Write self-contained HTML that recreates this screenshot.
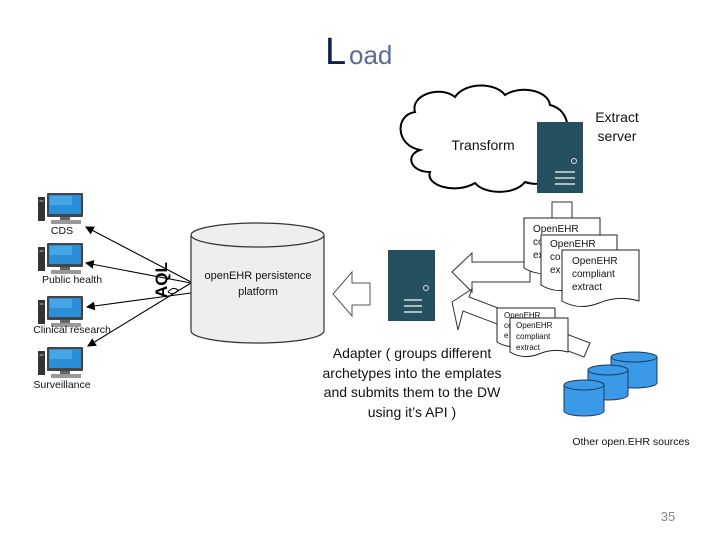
<!DOCTYPE html>
<html><head><meta charset="utf-8"><style>
html,body{margin:0;padding:0;background:#fff}
svg{display:block}
text{font-family:"Liberation Sans",sans-serif}
</style></head><body>
<svg width="720" height="540" viewBox="0 0 720 540" xmlns="http://www.w3.org/2000/svg">
<defs>
<marker id="ah" markerWidth="8" markerHeight="8" refX="7" refY="4" orient="auto"><path d="M0,0 L8,4 L0,8 z" fill="#000"/></marker>
<g id="pc">
  <rect x="0" y="4" width="7" height="24" fill="#333"/>
  <rect x="1.5" y="7" width="4" height="2" fill="#777"/>
  <rect x="9" y="0" width="36" height="24" rx="1" fill="#444"/>
  <rect x="11" y="2" width="32" height="19" fill="#2a8fd8"/>
  <rect x="12" y="3" width="22" height="9" fill="#5ab6ee" opacity="0.6"/>
  <rect x="22" y="24" width="10" height="3" fill="#666"/>
  <rect x="13" y="27" width="30" height="4" fill="#999"/>
</g>
</defs>
<text x="325" y="64" font-size="38" fill="#10204f" font-family="Liberation Serif,serif">L</text>
<text x="349" y="64" font-size="26" fill="#5a6a9a">oad</text>

<!-- computers -->
<use href="#pc" x="38" y="193"/>
<use href="#pc" x="38" y="243"/>
<use href="#pc" x="38" y="296"/>
<use href="#pc" x="38" y="347"/>
<g font-size="10.5" fill="#111" text-anchor="middle">
<text x="62" y="234">CDS</text>
<text x="72" y="283">Public health</text>
<text x="72" y="333">Clinical research</text>
<text x="62" y="388">Surveillance</text>
</g>
<g stroke="#000" stroke-width="1.1" fill="none" marker-end="url(#ah)">
<line x1="191" y1="282" x2="86" y2="227"/>
<line x1="191" y1="283" x2="86" y2="263"/>
<line x1="191" y1="293" x2="87" y2="307"/>
<line x1="191" y1="283" x2="88" y2="346"/>
</g>
<path d="M168,292 q5,-6 10,-2 q-4,6 -10,2" fill="none" stroke="#000" stroke-width="1"/>
<text transform="translate(167,298) rotate(-90)" font-size="17" font-weight="bold" fill="#000">AQL</text>

<!-- cylinder -->
<path d="M191,235 L191,331 A66.5,12 0 0 0 324,331 L324,235" fill="#eee" stroke="#333" stroke-width="1.2"/>
<ellipse cx="257.5" cy="235" rx="66.5" ry="12" fill="#eee" stroke="#333" stroke-width="1.2"/>
<text x="258" y="279" font-size="11" text-anchor="middle" fill="#111">openEHR persistence</text>
<text x="258" y="295" font-size="11" text-anchor="middle" fill="#111">platform</text>

<!-- block arrow left -->
<polygon points="333,294 352,272 352,283 370,283 370,305 352,305 352,316" fill="#fff" stroke="#555" stroke-width="1"/>

<!-- adapter server -->
<rect x="388" y="250" width="47" height="71" fill="#25505f"/>
<circle cx="426" cy="288" r="2.5" fill="none" stroke="#ddd" stroke-width="1"/>
<g stroke="#ddd" stroke-width="1.5"><line x1="404" y1="300" x2="422" y2="300"/><line x1="404" y1="306" x2="422" y2="306"/><line x1="404" y1="312" x2="422" y2="312"/></g>
<g font-size="14" text-anchor="middle" fill="#111">
<text x="412" y="358">Adapter ( groups different</text>
<text x="412" y="378">archetypes into the emplates</text>
<text x="412" y="397">and submits them to the DW</text>
<text x="412" y="417">using it’s API )</text>
</g>

<!-- cloud -->
<path d="M420,150 C395,145 395,115 415,112 C410,95 440,85 455,97 C465,82 495,82 505,95 C520,85 548,90 550,105 C572,110 572,140 558,150 C570,170 548,190 525,182 C515,195 485,195 475,183 C455,195 425,185 430,172 C410,172 405,155 420,150 Z" fill="#fff" stroke="#000" stroke-width="2"/>
<text x="483" y="150" font-size="14" text-anchor="middle" fill="#111">Transform</text>
<!-- extract server -->
<rect x="537" y="122" width="46" height="71" fill="#25505f"/>
<circle cx="574" cy="161" r="2.5" fill="none" stroke="#ddd" stroke-width="1"/>
<g stroke="#ddd" stroke-width="1.5"><line x1="555" y1="172" x2="575" y2="172"/><line x1="555" y1="178" x2="575" y2="178"/><line x1="555" y1="184" x2="575" y2="184"/></g>
<text x="617" y="122" font-size="14" text-anchor="middle" fill="#111">Extract</text>
<text x="617" y="141" font-size="14" text-anchor="middle" fill="#111">server</text>
<rect x="552" y="202" width="20" height="16" fill="#fff" stroke="#333"/>

<!-- arrows from docs -->
<polygon points="452,272 472,253 472,262 530,262 530,282 472,282 472,292" fill="#fff" stroke="#333" stroke-width="1"/>
<polygon points="452,302 472,289 469,297 590,343 584,357 463,311 458,330" fill="#fff" stroke="#333" stroke-width="1"/>

<!-- docs -->
<g fill="#fff" stroke="#222" stroke-width="1" font-size="10" fill-opacity="1">
<path d="M524,218 L600,218 L600,268 Q580,262 560,270 Q540,278 524,268 Z"/>
<text x="533" y="232" fill="#111" stroke="none">OpenEHR</text>
<text x="533" y="245" fill="#111" stroke="none">co</text>
<text x="533" y="258" fill="#111" stroke="none">ex</text>
<path d="M541,235 L617,235 L617,285 Q597,279 577,287 Q557,295 541,285 Z"/>
<text x="550" y="247" fill="#111" stroke="none">OpenEHR</text>
<text x="550" y="260" fill="#111" stroke="none">co</text>
<text x="550" y="273" fill="#111" stroke="none">ex</text>
<path d="M562,250 L639,250 L639,301 Q619,295 599,303 Q579,311 562,301 Z"/>
<text x="572" y="264" fill="#111" stroke="none">OpenEHR</text>
<text x="572" y="277" fill="#111" stroke="none">compliant</text>
<text x="572" y="290" fill="#111" stroke="none">extract</text>
</g>
<g fill="#fff" stroke="#222" stroke-width="1" font-size="8">
<path d="M497,308 L555,308 L555,342 Q540,338 526,344 Q510,350 497,342 Z"/>
<text x="504" y="318" fill="#111" stroke="none">OpenEHR</text>
<text x="504" y="328" fill="#111" stroke="none">co</text>
<text x="504" y="338" fill="#111" stroke="none">e</text>
<path d="M510,318 L568,318 L568,352 Q553,348 539,354 Q523,360 510,352 Z"/>
<text x="516" y="328" fill="#111" stroke="none">OpenEHR</text>
<text x="516" y="339" fill="#111" stroke="none">compliant</text>
<text x="516" y="350" fill="#111" stroke="none">extract</text>
</g>

<!-- blue cylinders -->
<g fill="#3b9ae8" stroke="#1a3a5a" stroke-width="1">
<path d="M611,357 L611,383 A23,5 0 0 0 657,383 L657,357"/><ellipse cx="634" cy="357" rx="23" ry="5"/>
<path d="M588,370 L588,395 A20,5 0 0 0 628,395 L628,370"/><ellipse cx="608" cy="370" rx="20" ry="5"/>
<path d="M564,385 L564,411 A20,5 0 0 0 604,411 L604,385"/><ellipse cx="584" cy="385" rx="20" ry="5"/>
</g>
<text x="631" y="445" font-size="10.5" text-anchor="middle" fill="#111">Other open.EHR sources</text>
<text x="668" y="521" font-size="13" text-anchor="middle" fill="#888">35</text>
</svg>
</body></html>
